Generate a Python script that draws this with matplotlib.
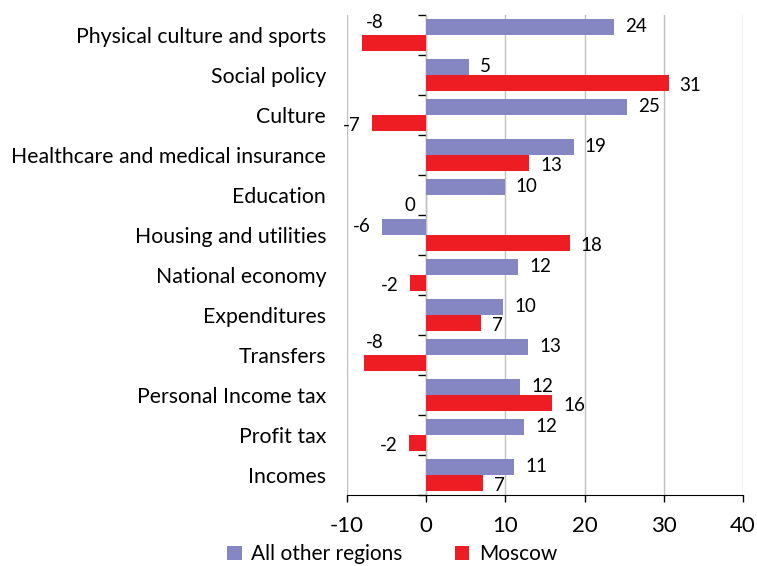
import matplotlib
matplotlib.use("Agg")
import matplotlib.pyplot as plt
import numpy as np

categories = ["Physical culture and sports", "Social policy", "Culture",
              "Healthcare and medical insurance", "Education", "Housing and utilities",
              "National economy", "Expenditures", "Transfers", "Personal Income tax",
              "Profit tax", "Incomes"]
other_regions = [23.7, 5.4, 25.4, 18.6, 9.9, -5.6, 11.6, 9.7, 12.9, 11.9, 12.4, 11.1]
moscow = [-8.1, 30.6, -6.9, 13.0, 0.0, 18.1, -2.1, 6.9, -7.9, 15.9, -2.2, 7.2]
xticks = [-10, 0, 10, 20, 30, 40]
series_names = ["All other regions", "Moscow"]

BLUE = "#8487C1"
RED = "#EE1D23"
FONT = "Lato"
plt.rcParams['font.family'] = [FONT, 'DejaVu Sans']

fig = plt.figure(figsize=(7.57, 5.66), dpi=100)
ax = fig.add_axes([347/757, 1-495/566, (743-347)/757, (495-15)/566])

y = np.arange(len(categories))
h = 0.39
off = 0.2
ax.barh(y - off, other_regions, height=h, color=BLUE, label=series_names[0], zorder=3)
ax.barh(y + off, moscow, height=h, color=RED, label=series_names[1], zorder=3)

ax.set_xlim(xticks[0], xticks[-1])
ax.set_ylim(len(categories) - 0.5, -0.5)
ax.set_xticks(xticks)
ax.set_xticklabels([str(t) for t in xticks], fontsize=16)
ax.tick_params(axis='x', length=5, width=1, pad=10, colors='black')
ax.set_yticks(y)
ax.set_yticklabels(categories, fontsize=15.3)
ax.tick_params(axis='y', length=0, pad=15)

ax.grid(axis='x', color='#BFBFBF', linewidth=1, zorder=0)
ax.grid(axis='y', visible=False)
for s in ['top', 'right', 'left']:
    ax.spines[s].set_visible(False)
ax.spines['bottom'].set_color('black')

# zero axis with category boundary ticks
zero_frac = (0 - xticks[0]) / (xticks[-1] - xticks[0])
sec = ax.secondary_yaxis(zero_frac)
sec.set_yticks(np.arange(-0.5, len(categories), 1.0))
sec.set_yticklabels([])
sec.tick_params(axis='y', length=5.5, width=1, direction='out', colors='black')
sec.spines['left'].set_color('black')

# data labels
xmin = xticks[0]
def label(val, yy, dy):
    txt = f"{int(np.floor(val + 0.5)):d}"
    if val > 0:
        ax.annotate(txt, (val, yy), xytext=(8, dy), textcoords='offset points',
                    ha='left', va='center', fontsize=13.5, zorder=5)
    elif val - 3 < xmin:
        ax.annotate(txt, (xmin, yy), xytext=(13.5, 15), textcoords='offset points',
                    ha='left', va='center', fontsize=13.5, zorder=5)
    else:
        ax.annotate(txt, (min(val, 0), yy), xytext=(-8, dy), textcoords='offset points',
                    ha='right', va='center', fontsize=13.5, zorder=5)

for i in range(len(categories)):
    label(other_regions[i], y[i] - off, 0)
    label(moscow[i], y[i] + off, -2)

fig.legend(loc='lower center', bbox_to_anchor=(0.518, -0.03), ncol=2, frameon=False,
           fontsize=15, handlelength=0.7, handleheight=0.7, handletextpad=0.45,
           columnspacing=2.5)

fig.savefig("out.png", dpi=100)
